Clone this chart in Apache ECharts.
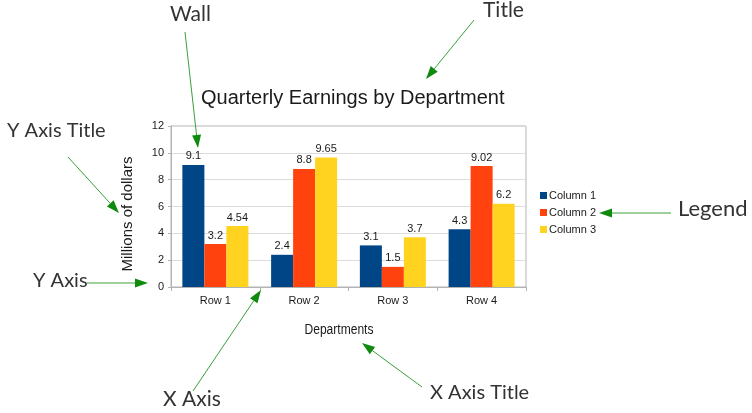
<!DOCTYPE html>
<html>
<head>
<meta charset="utf-8">
<script src="https://cdn.jsdelivr.net/npm/echarts@6/dist/echarts.min.js"></script>
<style>
  html, body { margin: 0; padding: 0; background: #fff; }
  #chart { width: 752px; height: 413px; }
</style>
</head>
<body>
<div id="chart"></div>
<script>
// Quarterly earnings per department, three columns per row
const categories = ['Row 1', 'Row 2', 'Row 3', 'Row 4'];
const column1 = [9.1, 2.4, 3.1, 4.3];
const column2 = [3.2, 8.8, 1.5, 9.02];
const column3 = [4.54, 9.65, 3.7, 6.2];
const seriesNames = ['Column 1', 'Column 2', 'Column 3'];
const yTicks = [0, 2, 4, 6, 8, 10, 12];

const colors = ['#004586', '#ff420e', '#ffd320'];
const LINE_GREEN = '#3aa03a';
const HEAD_GREEN = '#0f8a0f';
const BASE_FONT = '"Liberation Sans", Arial, sans-serif';
const CALLOUT_FONT = 'Lato, "Open Sans", sans-serif';

// Callout arrow: a thin line ending in a filled triangular head at (x2, y2)
function arrow(x1, y1, x2, y2) {
  const dx = x2 - x1, dy = y2 - y1;
  const len = Math.sqrt(dx * dx + dy * dy);
  const ux = dx / len, uy = dy / len;
  const headLen = 13, headHalf = 4.5;
  const bx = x2 - ux * headLen, by = y2 - uy * headLen;
  return [
    {
      type: 'line',
      shape: { x1: x1, y1: y1, x2: bx, y2: by },
      style: { stroke: LINE_GREEN, lineWidth: 1 },
      z: 100
    },
    {
      type: 'polygon',
      shape: { points: [[x2, y2], [bx - uy * headHalf, by + ux * headHalf], [bx + uy * headHalf, by - ux * headHalf]] },
      style: { fill: HEAD_GREEN },
      z: 100
    }
  ];
}

function callout(text, x, y, size) {
  return {
    type: 'text',
    left: x, top: y,
    style: { text: text, font: (size || 20) + 'px ' + CALLOUT_FONT, fill: '#333' },
    z: 100
  };
}

const seriesData = [column1, column2, column3];

const chart = echarts.init(document.getElementById('chart'), null, { renderer: 'canvas' });
chart.setOption({
  animation: false,
  backgroundColor: '#fff',
  title: {
    text: 'Quarterly Earnings by Department',
    left: 196,
    top: 83,
    textStyle: { fontFamily: BASE_FONT, fontSize: 20, fontWeight: 'normal', color: '#1a1a1a' }
  },
  legend: {
    orient: 'vertical',
    left: 540,
    top: 190,
    padding: 0,
    itemWidth: 7,
    itemHeight: 7,
    itemGap: 6,
    icon: 'rect',
    data: seriesNames,
    textStyle: { fontFamily: BASE_FONT, fontSize: 11, color: '#1a1a1a', padding: [0, 0, 0, -3] }
  },
  grid: {
    left: 171, right: 226, top: 126, bottom: 126,
    show: true,
    borderColor: '#b3b3b3',
    borderWidth: 1
  },
  xAxis: {
    type: 'category',
    data: categories,
    axisLine: { lineStyle: { color: '#b3b3b3' } },
    axisTick: { show: true, length: 4, alignWithLabel: false, lineStyle: { color: '#b3b3b3' } },
    axisLabel: { fontFamily: BASE_FONT, fontSize: 11, color: '#1a1a1a', margin: 8 }
  },
  yAxis: {
    type: 'value',
    min: yTicks[0],
    max: yTicks[yTicks.length - 1],
    interval: 2,
    axisLine: { show: true, lineStyle: { color: '#b3b3b3' } },
    axisTick: { show: true, length: 3, lineStyle: { color: '#b3b3b3' } },
    axisLabel: { fontFamily: BASE_FONT, fontSize: 11, color: '#1a1a1a', margin: 7 },
    splitLine: { lineStyle: { color: '#dcdcdc' } }
  },
  series: seriesNames.map((name, i) => ({
    name: name,
    type: 'bar',
    data: seriesData[i],
    barGap: '0%',
    barCategoryGap: '25.6%',
    itemStyle: { color: colors[i] },
    label: {
      show: true,
      position: 'top',
      distance: 3,
      fontFamily: BASE_FONT,
      fontSize: 11,
      color: '#1a1a1a'
    }
  })),
  graphic: [
    // Y axis title, rotated to read bottom-up
    {
      type: 'text',
      x: 128, y: 214,
      rotation: Math.PI / 2,
      style: { text: 'Millions of dollars', font: '15px ' + BASE_FONT, fill: '#1a1a1a', align: 'center', verticalAlign: 'middle' }
    },
    // X axis title, condensed
    {
      type: 'text',
      x: 339, y: 330,
      scaleX: 0.86,
      style: { text: 'Departments', font: '14px ' + BASE_FONT, fill: '#1a1a1a', align: 'center', verticalAlign: 'middle' }
    },
    callout('Wall', 170, 4, 21),
    callout('Title', 483, 0, 21),
    callout('Y Axis Title', 7, 121),
    callout('Y Axis', 33, 271),
    callout('Legend', 678, 198, 22),
    callout('X Axis', 163, 389, 21),
    callout('X Axis Title', 430, 383),
    ...arrow(185, 32, 198, 148),
    ...arrow(474, 20, 426, 79),
    ...arrow(68, 157, 119, 213),
    ...arrow(87, 283, 148, 283),
    ...arrow(671, 213, 599, 213),
    ...arrow(193, 391, 261, 290),
    ...arrow(422, 387, 362, 343)
  ]
});
</script>
</body>
</html>
